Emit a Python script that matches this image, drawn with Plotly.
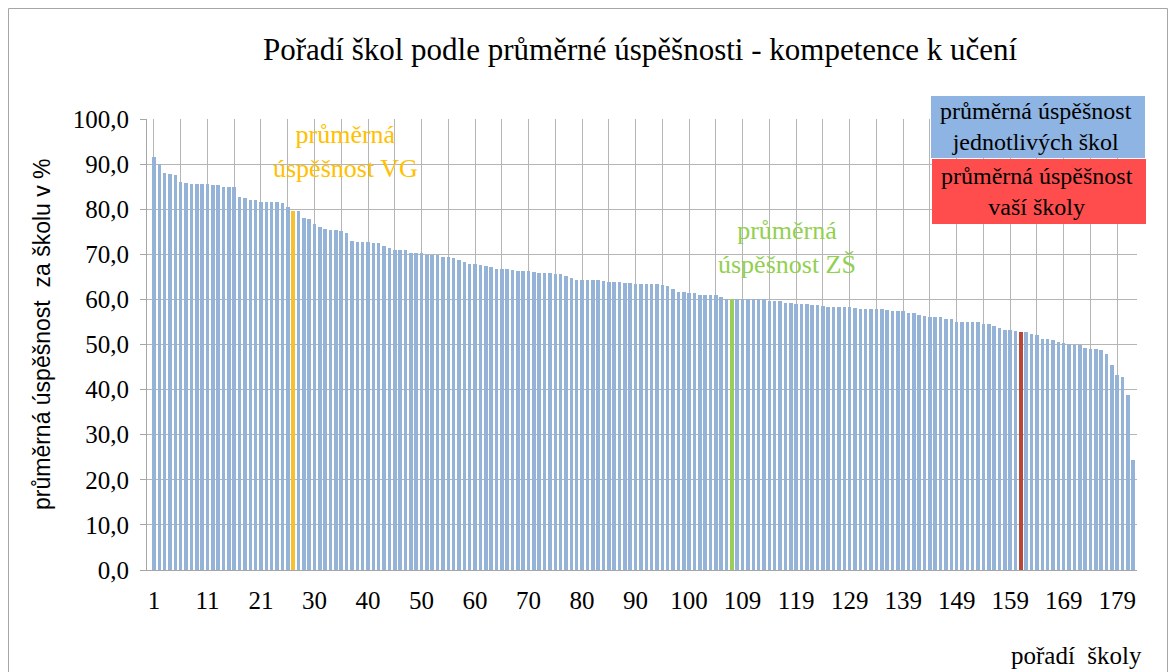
import plotly.graph_objects as go

# ---------------- data ----------------
title_text = "Pořadí škol podle průměrné úspěšnosti - kompetence k učení"

# ranked schools 1..182 with the two reference averages inserted
categories = ([str(i) for i in range(1, 27)] + ["VG"] +
              [str(i) for i in range(27, 108)] + ["ZŠ"] +
              [str(i) for i in range(108, 183)])

values = [
    91.6, 90.1, 88.0, 87.8, 87.6, 86.1, 85.8, 85.6, 85.5, 85.5,
    85.5, 85.3, 85.3, 84.9, 84.9, 84.9, 82.8, 82.5, 82.0, 82.0,
    81.7, 81.7, 81.6, 81.6, 81.4, 80.4, 79.7, 79.6, 78.1, 77.9,
    76.7, 76.1, 75.6, 75.3, 75.3, 75.2, 74.8, 72.9, 72.8, 72.7,
    72.7, 72.6, 72.4, 71.8, 71.4, 71.0, 70.9, 70.9, 70.3, 70.2,
    70.2, 69.9, 69.9, 69.8, 69.4, 69.4, 69.1, 68.7, 68.3, 67.9,
    67.9, 67.7, 67.4, 67.2, 66.8, 66.8, 66.8, 66.6, 66.4, 66.4,
    66.4, 66.1, 65.9, 65.9, 65.8, 65.6, 65.6, 65.3, 64.7, 64.4,
    64.4, 64.3, 64.2, 64.2, 64.1, 63.9, 63.9, 63.8, 63.6, 63.6,
    63.4, 63.4, 63.4, 63.4, 63.4, 63.2, 63.0, 62.2, 61.6, 61.6,
    61.4, 61.4, 61.0, 61.0, 61.0, 60.9, 60.5, 60.1, 60.1, 60.0,
    60.0, 60.0, 60.0, 60.0, 60.0, 59.6, 59.6, 59.6, 59.3, 59.3,
    59.0, 59.0, 59.0, 58.8, 58.8, 58.6, 58.4, 58.4, 58.4, 58.4,
    58.4, 58.1, 57.9, 57.9, 57.9, 57.9, 57.9, 57.6, 57.4, 57.4,
    57.4, 56.9, 56.9, 56.6, 56.4, 56.0, 56.0, 56.0, 55.6, 55.6,
    55.1, 55.1, 55.1, 55.1, 54.9, 54.5, 54.5, 54.2, 53.6, 53.3,
    53.2, 53.0, 52.8, 52.8, 52.3, 52.0, 51.3, 51.2, 51.0, 50.5,
    50.4, 50.2, 50.0, 49.9, 49.2, 48.9, 48.9, 48.8, 47.8, 45.4,
    43.2, 42.9, 38.8, 24.3,
]

vg_label = "VG"
zs_label = "ZŠ"
your_school = "161"

tick_labels = ["1", "11", "21", "30", "40", "50", "60", "70", "80", "90",
               "100", "109", "119", "129", "139", "149", "159", "169", "179"]
y_ticks = [0, 10, 20, 30, 40, 50, 60, 70, 80, 90, 100]

# ---------------- styling ----------------
BLUE = "#95B3D7"
YELLOW = "#F5C12E"
GREEN = "#9ACD5A"
RED = "#B8473A"
GRID = "#B5B5B5"
SERIF = "Liberation Serif, Times New Roman, serif"
SANS = "Liberation Sans, Arial, sans-serif"

pos = list(range(len(categories)))
colors = [BLUE] * len(categories)
colors[categories.index(vg_label)] = YELLOW
colors[categories.index(zs_label)] = GREEN
colors[categories.index(your_school)] = RED

fig = go.Figure()
fig.add_trace(go.Bar(
    x=pos, y=values, marker=dict(color=colors, line=dict(width=0)),
    width=0.66, hoverinfo="skip", showlegend=False,
))

OFF = 8  # page body margin
W, H = 1160, 664
L, R, T, B = 139, 31, 111, 102
pw, ph = W - L - R, H - T - B


def px(xp):
    return (xp - OFF - L) / pw


def py(yp):
    return (H - B - (yp - OFF)) / ph


fig.update_layout(
    width=W, height=H,
    margin=dict(l=L, r=R, t=T, b=B, autoexpand=False),
    paper_bgcolor="white", plot_bgcolor="white",
    separators=",.",
    bargap=0,
    xaxis=dict(
        range=[-1.3, 183.7],
        tickmode="array",
        tickvals=[categories.index(t) for t in tick_labels],
        ticktext=tick_labels,
        showgrid=True, gridcolor=GRID, gridwidth=1,
        minor=dict(dtick=5, tick0=0, showgrid=True, gridcolor=GRID, gridwidth=1),
        showline=True, linecolor="#A6A6A6", linewidth=1,
        ticks="", zeroline=False,
        tickfont=dict(family=SERIF, size=25, color="#000000"),
        ticklabelstandoff=8,
    ),
    yaxis=dict(
        range=[0, 100],
        tickmode="array", tickvals=y_ticks, tickformat=".1f",
        showgrid=True, gridcolor=GRID, gridwidth=1,
        showline=True, linecolor="#A6A6A6", linewidth=1,
        ticks="outside", ticklen=6, tickcolor="#A6A6A6",
        zeroline=False,
        tickfont=dict(family=SERIF, size=25, color="#000000"),
        ticklabelstandoff=6,
    ),
)

ann = []
ann.append(dict(text=title_text, x=px(640), y=py(50), xref="paper", yref="paper",
                showarrow=False, font=dict(family=SERIF, size=31, color="#000000"),
                xanchor="center", yanchor="middle"))
ann.append(dict(text="průměrná úspěšnost  za školu v %", x=px(42), y=py(334),
                xref="paper", yref="paper", textangle=-90, showarrow=False,
                font=dict(family=SANS, size=23, color="#000000"),
                xanchor="center", yanchor="middle"))
ann.append(dict(text="pořadí  školy", x=px(1076), y=py(655), xref="paper", yref="paper",
                showarrow=False, font=dict(family=SERIF, size=25, color="#000000"),
                xanchor="center", yanchor="middle"))
ann.append(dict(text="průměrná<br>úspěšnost VG", x=px(345), y=py(152), xref="paper",
                yref="paper", showarrow=False, align="center",
                font=dict(family=SERIF, size=26, color="#FFC000"),
                xanchor="center", yanchor="middle"))
ann.append(dict(text="průměrná<br>úspěšnost ZŠ", x=px(787), y=py(247), xref="paper",
                yref="paper", showarrow=False, align="center",
                font=dict(family=SERIF, size=26, color="#92D050"),
                xanchor="center", yanchor="middle"))
ann.append(dict(text="průměrná úspěšnost<br>jednotlivých škol", x=px(1036), y=py(127),
                xref="paper", yref="paper", showarrow=False, align="center",
                font=dict(family=SERIF, size=24, color="#000000"),
                xanchor="center", yanchor="middle"))
ann.append(dict(text="průměrná úspěšnost<br>vaší školy", x=px(1037), y=py(191),
                xref="paper", yref="paper", showarrow=False, align="center",
                font=dict(family=SERIF, size=24, color="#000000"),
                xanchor="center", yanchor="middle"))
fig.update_layout(annotations=ann)

shapes = [
    dict(type="rect", xref="paper", yref="paper", x0=px(931), x1=px(1145),
         y0=py(158), y1=py(96), fillcolor="#8DB4E2", line=dict(width=0), layer="above"),
    dict(type="rect", xref="paper", yref="paper", x0=px(932), x1=px(1146),
         y0=py(224), y1=py(159), fillcolor="#FF4D4D", line=dict(width=0), layer="above"),
    dict(type="rect", xref="paper", yref="paper", x0=px(8.5), x1=px(1167.5),
         y0=py(720), y1=py(8.5), fillcolor="rgba(0,0,0,0)",
         line=dict(color="#A6A6A6", width=1), layer="below"),
]
fig.update_layout(shapes=shapes)

fig.write_html("out.html")
